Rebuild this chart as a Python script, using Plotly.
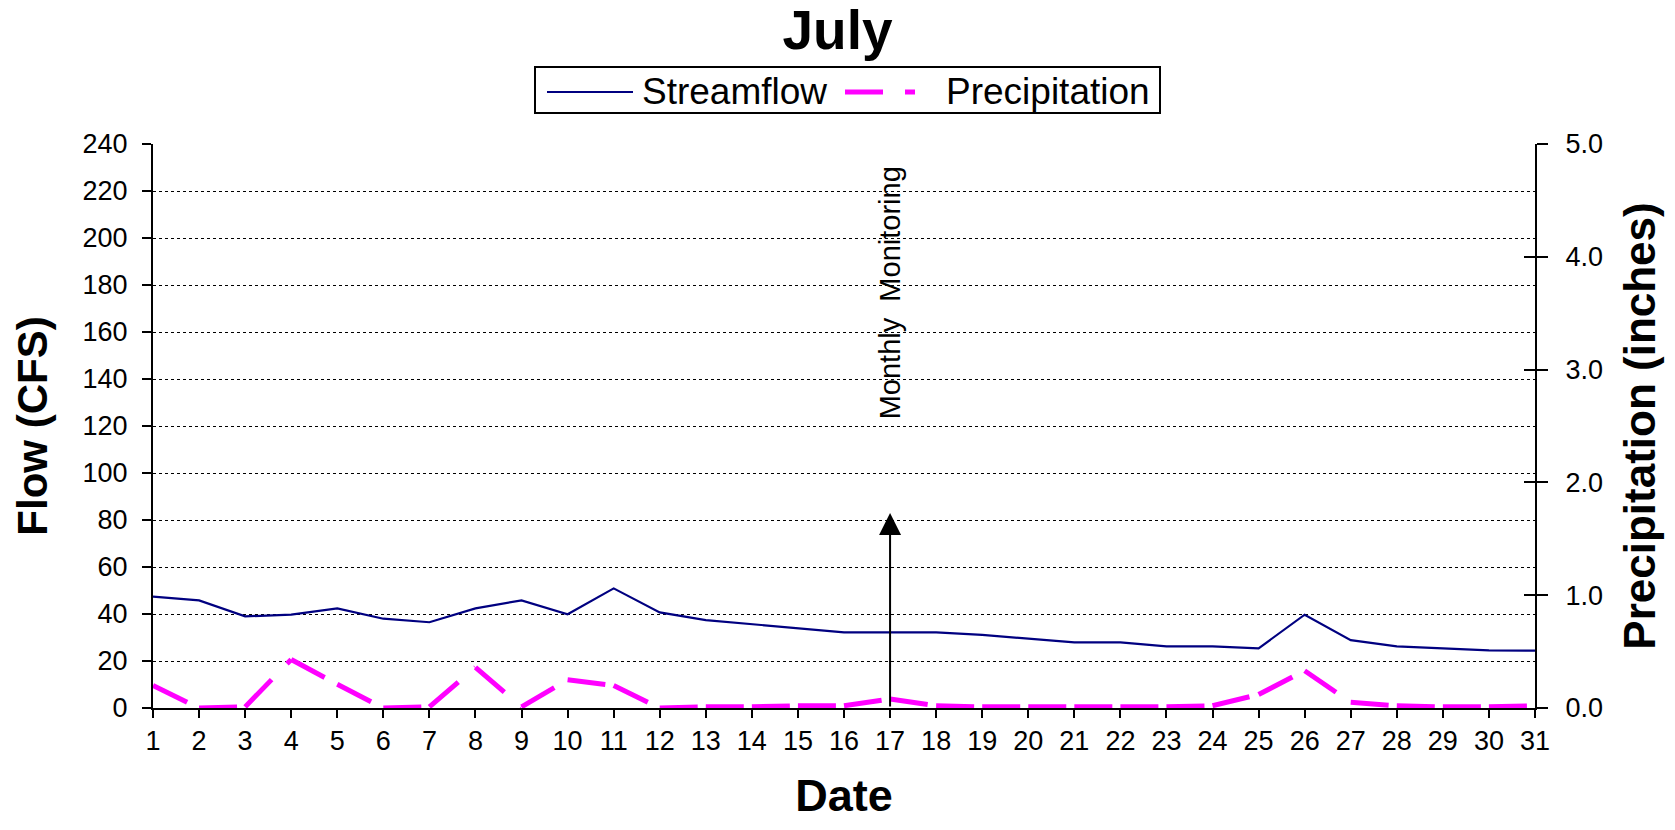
import plotly.graph_objects as go

# Daily values for July
days = list(range(1, 32))
streamflow_cfs = [47.4, 45.8, 39.0, 39.7, 42.4, 38.0, 36.5, 42.4, 45.8, 39.9,
                  50.9, 40.7, 37.4, 35.6, 33.9, 32.2, 32.2, 32.2, 31.1, 29.5,
                  27.9, 27.9, 26.2, 26.2, 25.4, 39.7, 28.9, 26.2, 25.4, 24.5, 24.4]
precip_in = [0.20, 0.00, 0.01, 0.43, 0.21, 0.00, 0.01, 0.36, 0.01, 0.25,
             0.20, 0.00, 0.01, 0.01, 0.02, 0.02, 0.08, 0.02, 0.01, 0.01,
             0.01, 0.01, 0.01, 0.02, 0.12, 0.33, 0.05, 0.02, 0.01, 0.01, 0.02]
flow_ticks = list(range(0, 241, 20))
precip_ticks = [0, 1, 2, 3, 4, 5]
monitoring_day = 17
monitoring_arrow_top = 83

FONT = "Liberation Sans, Arial, sans-serif"
NAVY = "#000080"
MAGENTA = "#FF00FF"
PRECIP_DASH = "38px,22px,10px,22px"

W, H = 1675, 830
M_L, M_R, M_T, M_B = 153, 140, 144, 122
PLOT_W = W - M_L - M_R
PLOT_H = H - M_T - M_B


def px_x(px):
    """Pixel column -> paper x."""
    return (px - M_L) / PLOT_W


def px_y(py):
    """Pixel row -> paper y."""
    return (H - M_B - py) / PLOT_H


fig = go.Figure()

fig.add_trace(go.Scatter(
    x=days, y=streamflow_cfs, name="Streamflow", mode="lines",
    line=dict(color=NAVY, width=2.2), yaxis="y", showlegend=False,
))

# precipitation drawn segment by segment so the dash pattern restarts at each day
for i in range(len(days) - 1):
    fig.add_trace(go.Scatter(
        x=days[i:i + 2], y=precip_in[i:i + 2], name="Precipitation",
        mode="lines", legendgroup="precip", showlegend=False,
        line=dict(color=MAGENTA, width=5, dash=PRECIP_DASH), yaxis="y2",
    ))

# companion axis carrying the inner half of the right-hand tick marks
fig.add_trace(go.Scatter(
    x=days, y=precip_in, mode="lines", line=dict(width=0), opacity=0,
    showlegend=False, hoverinfo="skip", yaxis="y3",
))

# monitoring marker
fig.add_annotation(
    x=monitoring_day, y=monitoring_arrow_top, ax=monitoring_day, ay=0,
    xref="x", yref="y", axref="x", ayref="y", text="", showarrow=True,
    arrowhead=2, arrowsize=2.2, arrowwidth=2, arrowcolor="black", standoff=0,
)
fig.add_annotation(
    x=monitoring_day, y=176.5, xref="x", yref="y",
    text="Monthly\u00a0 Monitoring", textangle=-90, showarrow=False,
    xanchor="center", yanchor="middle",
    font=dict(family=FONT, size=29, color="black"),
)

# boxed key above the plot
key_y = px_y(92)
fig.add_shape(type="rect", xref="paper", yref="paper",
              x0=px_x(535), x1=px_x(1160), y0=px_y(113), y1=px_y(67),
              line=dict(color="black", width=2), fillcolor="white", layer="above")
fig.add_shape(type="line", xref="paper", yref="paper",
              x0=px_x(547), x1=px_x(633), y0=key_y, y1=key_y,
              line=dict(color=NAVY, width=2.2), layer="above")
fig.add_shape(type="line", xref="paper", yref="paper",
              x0=px_x(845), x1=px_x(917), y0=key_y, y1=key_y,
              line=dict(color=MAGENTA, width=5, dash=PRECIP_DASH), layer="above")
fig.add_annotation(x=px_x(640), y=key_y, xref="paper", yref="paper",
                   text="Streamflow", showarrow=False, xanchor="left",
                   yanchor="middle", font=dict(family=FONT, size=37, color="black"))
fig.add_annotation(x=px_x(944), y=key_y, xref="paper", yref="paper",
                   text="Precipitation", showarrow=False, xanchor="left",
                   yanchor="middle", font=dict(family=FONT, size=37, color="black"))

fig.update_layout(
    width=W, height=H,
    margin=dict(l=M_L, r=M_R, t=M_T, b=M_B),
    paper_bgcolor="white", plot_bgcolor="white",
    font=dict(family=FONT, color="black"),
    title=dict(text="<b>July</b>", x=0.5, xref="container", xanchor="center",
               y=1 - 30 / H, yref="container", yanchor="middle",
               font=dict(family=FONT, size=55, color="black")),
    showlegend=False,
    xaxis=dict(
        range=[1, 31], tickmode="array", tickvals=days,
        ticktext=[str(d) for d in days],
        ticks="outside", ticklen=8, tickwidth=2, tickcolor="black",
        showline=True, linecolor="black", linewidth=2, showgrid=False,
        zeroline=False, tickfont=dict(family=FONT, size=27, color="black"),
        title=dict(text="<b>Date</b>", standoff=24,
                   font=dict(family=FONT, size=45, color="black")),
    ),
    yaxis=dict(
        range=[0, 240], tickmode="array", tickvals=flow_ticks,
        ticks="outside", ticklen=9, tickwidth=2, tickcolor="black",
        showline=True, linecolor="black", linewidth=2,
        showgrid=True, gridcolor="black", gridwidth=1, griddash="dot",
        zeroline=False, ticklabelstandoff=9,
        tickfont=dict(family=FONT, size=27, color="black"),
        title=dict(text="<b>Flow (CFS)</b>", standoff=22,
                   font=dict(family=FONT, size=42, color="black")),
    ),
    yaxis2=dict(
        range=[0, 5], tickmode="array", tickvals=precip_ticks,
        tickformat=".1f", overlaying="y", side="right", anchor="x",
        ticks="outside", ticklen=11, tickwidth=2, tickcolor="black",
        showline=True, linecolor="black", linewidth=2, showgrid=False,
        zeroline=False, ticklabelstandoff=12,
        tickfont=dict(family=FONT, size=27, color="black"),
        title=dict(text="<b>Precipitation (inches)</b>", standoff=22,
                   font=dict(family=FONT, size=44, color="black")),
    ),
    yaxis3=dict(
        range=[0, 5], tickmode="array", tickvals=precip_ticks,
        overlaying="y", side="right", anchor="x",
        ticks="inside", ticklen=11, tickwidth=2, tickcolor="black",
        showline=False, showgrid=False, zeroline=False, showticklabels=False,
    ),
)

fig.write_html("out.html")
